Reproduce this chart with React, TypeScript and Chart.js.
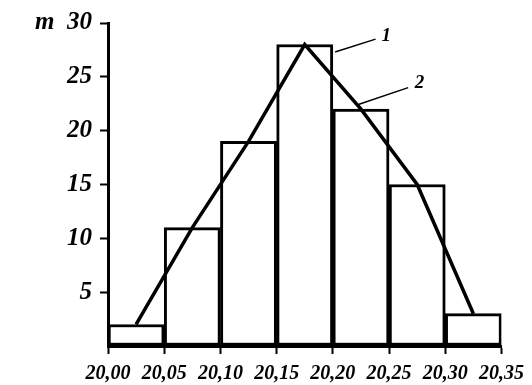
import React, { useEffect, useRef } from "react";
import { Chart, registerables } from "chart.js";

Chart.register(...registerables);

// Histogram bins (midpoints) and counts m
const binMids = [20.025, 20.075, 20.125, 20.175, 20.225, 20.275, 20.325];
const counts = [2, 11, 19, 28, 22, 15, 3];
// Frequency polygon (curve 2) through bin midpoints
const polygonX = [20.025, 20.075, 20.125, 20.175, 20.225, 20.275, 20.325];
const polygonY = [2, 11, 19, 28, 22, 15, 3];
// Axis ticks
const xTicks = [20.0, 20.05, 20.1, 20.15, 20.2, 20.25, 20.3, 20.35];
const yTicks = [0, 5, 10, 15, 20, 25, 30];
const yAxisName = "m";
// Callout labels: text, leader start, leader end, label position (data coords)
const callouts = [
  { text: "1", from: [20.202, 27.3], to: [20.238, 28.5], at: [20.2475, 28.75] },
  { text: "2", from: [20.222, 22.4], to: [20.267, 24.0], at: [20.277, 24.4] },
];

const FONT = "'Liberation Serif', 'Times New Roman', serif";

const calloutPlugin = {
  id: "callouts",
  afterDraw(chart: any) {
    const { ctx, scales } = chart;
    const xs = scales.x;
    const ys = scales.y;
    ctx.save();
    ctx.strokeStyle = "#000";
    ctx.fillStyle = "#000";
    ctx.lineWidth = 1.5;
    ctx.font = `italic bold 19px ${FONT}`;
    ctx.textAlign = "center";
    ctx.textBaseline = "middle";
    for (const c of callouts) {
      ctx.beginPath();
      ctx.moveTo(xs.getPixelForValue(c.from[0]), ys.getPixelForValue(c.from[1]));
      ctx.lineTo(xs.getPixelForValue(c.to[0]), ys.getPixelForValue(c.to[1]));
      ctx.stroke();
      ctx.fillText(c.text, xs.getPixelForValue(c.at[0]), ys.getPixelForValue(c.at[1]));
    }
    ctx.restore();
  },
};

export default function App() {
  const ref = useRef<HTMLCanvasElement | null>(null);

  useEffect(() => {
    if (!ref.current) return;
    const chart = new Chart(ref.current, {
      type: "bar",
      data: {
        datasets: [
          {
            type: "line",
            data: polygonX.map((x, i) => ({ x, y: polygonY[i] })),
            borderColor: "#000",
            borderWidth: 3.5,
            pointRadius: 0,
            tension: 0,
            fill: false,
            order: 1,
          } as any,
          {
            type: "bar",
            data: binMids.map((x, i) => ({ x, y: counts[i] })),
            backgroundColor: "#fff",
            borderColor: "#000",
            borderWidth: 3,
            borderSkipped: false,
            barPercentage: 1,
            categoryPercentage: 1,
            order: 2,
          } as any,
        ],
      },
      options: {
        responsive: false,
        animation: false,
        layout: { padding: { left: 0, top: 19, right: 28, bottom: 0 } },
        plugins: { legend: { display: false }, tooltip: { enabled: false } },
        scales: {
          x: {
            type: "linear",
            min: 20.0,
            max: 20.35,
            offset: false,
            afterBuildTicks: (s: any) => {
              s.ticks = xTicks.map((v) => ({ value: v }));
            },
            afterFit: (s: any) => {
              s.height = 39;
            },
            border: { display: true, color: "#000", width: 3 },
            grid: {
              drawOnChartArea: false,
              drawTicks: true,
              tickLength: 8,
              tickWidth: 2,
              tickColor: "#000",
              offset: false,
            },
            ticks: {
              color: "#000",
              padding: 8,
              maxRotation: 0,
              autoSkip: false,
              font: { family: FONT, size: 20, weight: "bold", style: "italic" },
              callback: (v: any) => Number(v).toFixed(2).replace(".", ","),
            },
          },
          y: {
            type: "linear",
            min: 0,
            max: 30,
            afterBuildTicks: (s: any) => {
              s.ticks = yTicks.map((v) => ({ value: v }));
            },
            afterFit: (s: any) => {
              s.width = 108;
            },
            border: { display: true, color: "#000", width: 3 },
            grid: {
              drawOnChartArea: false,
              drawTicks: true,
              tickLength: 8,
              tickWidth: 2,
              tickColor: (c: any) => (c.tick && c.tick.value === 0 ? "rgba(0,0,0,0)" : "#000"),
            },
            ticks: {
              color: "#000",
              padding: 8,
              font: { family: FONT, size: 25, weight: "bold", style: "italic" },
              callback: (v: any) =>
                v === 0 ? "" : v === 30 ? `${yAxisName}  ${v}` : String(v),
            },
          },
        },
      },
      plugins: [calloutPlugin],
    });
    return () => chart.destroy();
  }, []);

  return (
    <div style={{ position: "fixed", left: 0, top: 0, width: 532, height: 385, background: "#fff" }}>
      <canvas ref={ref} width={532} height={385} style={{ width: 532, height: 385 }} />
    </div>
  );
}
